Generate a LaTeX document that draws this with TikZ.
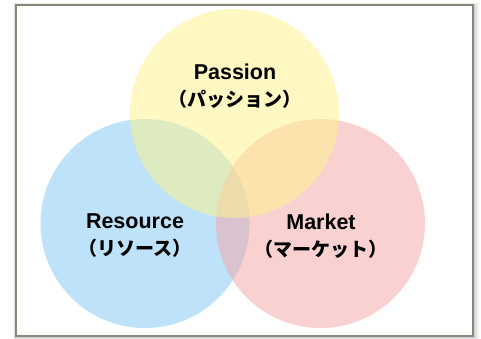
\documentclass[tikz,border=0pt]{standalone}
\usepackage{fontspec}
\newfontfamily\jp{Noto Sans CJK JP}
\newfontfamily\lat{Liberation Sans}
\definecolor{ycol}{RGB}{255,243,137}
\definecolor{bcol}{RGB}{125,199,245}
\definecolor{rcol}{RGB}{245,165,165}
\definecolor{framecol}{RGB}{138,134,121}
\newcommand{\latl}[1]{{\lat\bfseries\fontsize{21.5}{27}\selectfont #1}}
\begin{document}
\begin{tikzpicture}[x=1pt,y=-1pt,
  venn/.style={circle,minimum size=209pt,inner sep=0pt,fill opacity=0.5,draw=none},
  lbl/.style={align=center,font=\jp\bfseries\fontsize{19}{27}\selectfont,text=black,inner sep=0pt}]
\useasboundingbox (0,0) rectangle (481,338);
\fill[white] (0,0) rectangle (481,338);
% shadow
\foreach \d/\o in {1/0.10,2/0.07,3/0.05,4/0.03,5/0.02,6/0.01}{
  \fill[black,opacity=\o] (16-\d*0.6,5-\d*0.5) rectangle (473+\d*1.2,336+\d);
}
\fill[white] (16,5) rectangle (473,336);
\node[venn,fill=bcol] (res) at (145,223.5) {};
\node[venn,fill=rcol] (mkt) at (320.5,223.5) {};
\node[venn,fill=ycol] (pas) at (234.5,113.5) {};
\draw[framecol,line width=1.6pt] (16,5) rectangle (473,336);
\node[lbl] (tp) at (235,86) {\latl{Passion}\\（パッション）};
\node[lbl] (tr) at (135,236) {\latl{Resource}\\（リソース）};
\node[lbl] (tm) at (321,236) {\latl{Market}\\（マーケット）};
\end{tikzpicture}
\end{document}
